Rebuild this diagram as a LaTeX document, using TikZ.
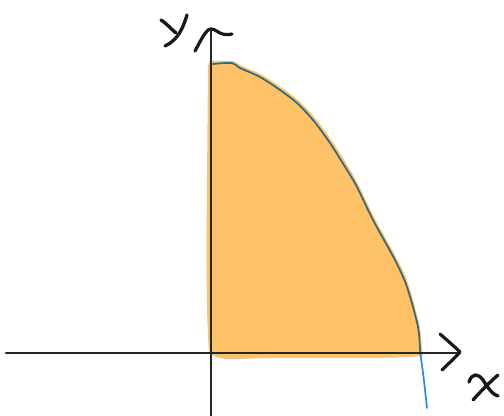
\documentclass[tikz,border=0pt]{standalone}
\begin{document}
\begin{tikzpicture}[x=0.75pt,y=-0.75pt,
  axis/.style={line width=1.6pt,draw=black!85,line cap=round,line join=round},
  hand/.style={line width=2.5pt,draw=black!90,line cap=round,line join=round},
  curveline/.style={line width=1.3pt,line cap=round,line join=round}]
\definecolor{fillor}{HTML}{FDC168}
\definecolor{teal}{HTML}{1F6E9C}
\definecolor{brblue}{HTML}{2A8BEA}
\useasboundingbox (0,0) rectangle (504,416);
% filled region
\fill[fillor] plot[smooth,tension=0.5] coordinates {(210,61) (232,61) (242,66) (262,75) (282,88) (299,101) (315,118) (332,141) (349,168) (359,186) (375,219) (397,259) (409,286) (420,327)}
  -- (423,356) .. controls (380,360) and (300,356) .. (240,359)
  .. controls (225,360) and (213,358) .. (209,352)
  .. controls (205,300) and (207,200) .. (208,66) -- cycle;
% curve
\coordinate (c0) at (213,64);
\coordinate (c1) at (420,352);
\coordinate (c2) at (427,408);
\draw[curveline,teal] plot[smooth,tension=0.5] coordinates {(213,64) (232,63) (240,68) (260,77) (280,90) (297,103) (313,120) (330,143) (347,170) (357,187) (373,220) (395,260) (407,287) (418,327) (420,352)};
\draw[curveline,brblue] (c1) .. controls (423,370) and (425,390) .. (c2);
% axes
\coordinate (xs) at (6,353);
\coordinate (xe) at (459,353);
\coordinate (ys) at (211,416);
\coordinate (ye) at (211,31);
\draw[axis] (xs) -- (xe);
\draw[axis] (ys) -- (ye);
% arrowheads
\draw[hand,line width=2.4pt] (440,334) .. controls (448,341) and (455,347) .. (460,352)
  .. controls (455,358) and (448,364) .. (442,370);
\draw[hand,line width=2.4pt] (195,51) .. controls (200,42) and (203,35) .. (208,30)
  .. controls (212,27) and (216,31) .. (220,33) .. controls (224,35) and (228,35) .. (232,34);
% y label
\node[inner sep=0pt] (ylab) at (173,32) {};
\draw[hand] (161,20) .. controls (166,23) and (170,28) .. (176,33);
\draw[hand] (187,15) .. controls (183,28) and (178,40) .. (165,46);
% x label
\node[inner sep=0pt] (xlab) at (484,386) {};
\draw[hand] (469,382) .. controls (472,373) and (478,373) .. (483,380)
  .. controls (488,388) and (493,395) .. (498,396);
\draw[hand] (498,375) .. controls (490,382) and (480,392) .. (473,400);
\end{tikzpicture}
\end{document}
